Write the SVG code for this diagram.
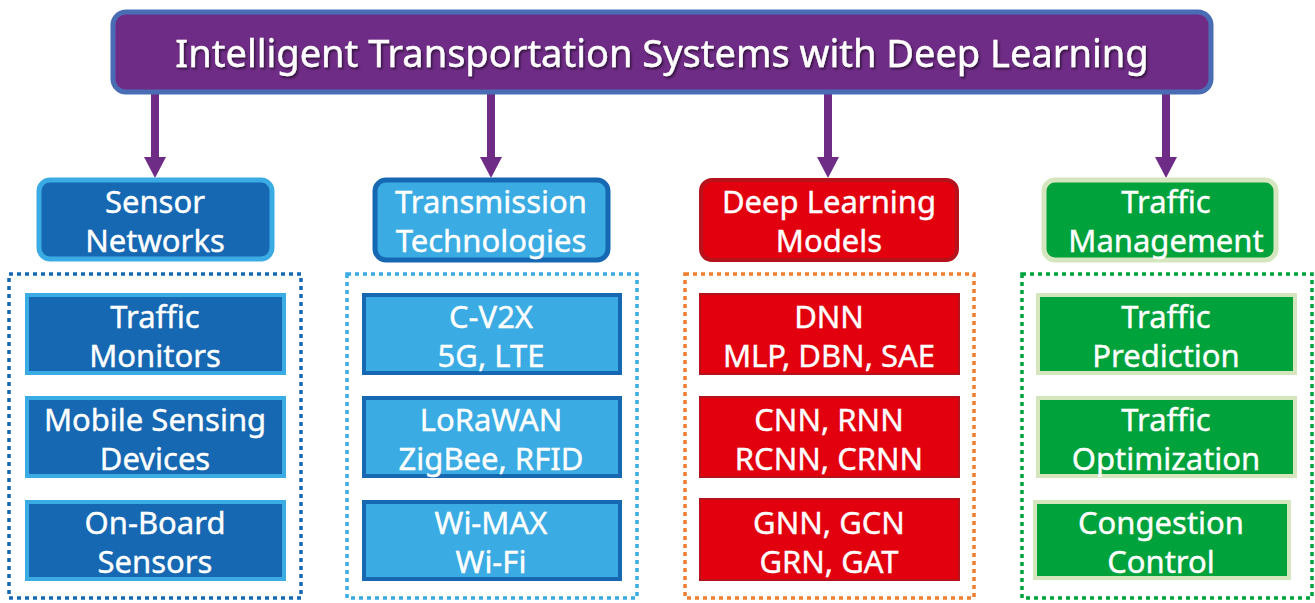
<svg xmlns="http://www.w3.org/2000/svg" width="1315" height="603" viewBox="0 0 1315 603">
<style>
text{font-family:"Noto Sans","Open Sans","DejaVu Sans",sans-serif;fill:#fff;text-anchor:middle;stroke:#fff;stroke-width:0.4}
.t{font-size:38px}
.l{font-size:31px}
.dot{fill:none;stroke-width:3.5;stroke-dasharray:4 4}
</style>
<defs>
<filter id="sh" x="-5%" y="-20%" width="110%" height="150%">
<feDropShadow dx="1.5" dy="2" stdDeviation="1" flood-color="#000" flood-opacity="0.55"/>
</filter>
</defs>
<g id="connectors" stroke="#6f2c86" stroke-width="8" fill="#6f2c86">
<line x1="155" y1="94" x2="155" y2="160"/>
<line x1="491" y1="94" x2="491" y2="160"/>
<line x1="828" y1="94" x2="828" y2="160"/>
<line x1="1166" y1="94" x2="1166" y2="160"/>
<path stroke="none" d="M144,157 L166,157 L155,178 Z"/>
<path stroke="none" d="M480,157 L502,157 L491,178 Z"/>
<path stroke="none" d="M817,157 L839,157 L828,178 Z"/>
<path stroke="none" d="M1155,157 L1177,157 L1166,178 Z"/>
</g>
<g id="title">
<rect x="113" y="12" width="1098" height="80" rx="13" fill="#6f2c86" stroke="#4a6cb5" stroke-width="5"/>
<text class="t" x="662" y="67" filter="url(#sh)">Intelligent Transportation Systems with Deep Learning</text>
</g>
<g id="sensor-networks">
<rect x="39" y="180" width="233" height="79" rx="11" fill="#1668b2" stroke="#3aabe3" stroke-width="5"/>
<text class="l" x="155" y="213">Sensor</text><text class="l" x="155" y="252">Networks</text>
</g>
<g id="transmission-technologies">
<rect x="375" y="180" width="233" height="80" rx="11" fill="#3aabe3" stroke="#1668b2" stroke-width="5"/>
<text class="l" x="491" y="213">Transmission</text><text class="l" x="491" y="252">Technologies</text>
</g>
<g id="deep-learning-models">
<rect x="701" y="180" width="256" height="80" rx="11" fill="#e2000f" stroke="#b5121b" stroke-width="4"/>
<text class="l" x="829" y="213">Deep Learning</text><text class="l" x="829" y="252">Models</text>
</g>
<g id="traffic-management">
<rect x="1044" y="180" width="232" height="80" rx="11" fill="#00a23b" stroke="#d5e5bd" stroke-width="5"/>
<text class="l" x="1166" y="213">Traffic</text><text class="l" x="1166" y="252">Management</text>
</g>
<g id="sensor-group">
<rect class="dot" x="9" y="274" width="292" height="324" stroke="#1668b2"/>
</g>
<g id="transmission-group">
<rect class="dot" x="347" y="274" width="290" height="324" stroke="#3aabe3"/>
</g>
<g id="dl-group">
<rect class="dot" x="685" y="274" width="289" height="324" stroke="#ed7d31"/>
</g>
<g id="traffic-group">
<rect class="dot" x="1022" y="274" width="290" height="324" stroke="#00a23b"/>
</g>
<g id="traffic-monitors">
<rect x="27" y="295" width="257" height="78" fill="#1668b2" stroke="#3aabe3" stroke-width="4"/>
<text class="l" x="155" y="328">Traffic</text><text class="l" x="155" y="367">Monitors</text>
</g>
<g id="mobile-sensing-devices">
<rect x="27" y="398" width="257" height="78" fill="#1668b2" stroke="#3aabe3" stroke-width="4"/>
<text class="l" x="155" y="431">Mobile Sensing</text><text class="l" x="155" y="470">Devices</text>
</g>
<g id="on-board-sensors">
<rect x="27" y="502" width="257" height="77" fill="#1668b2" stroke="#3aabe3" stroke-width="4"/>
<text class="l" x="155" y="534">On-Board</text><text class="l" x="155" y="573">Sensors</text>
</g>
<g id="c-v2x">
<rect x="364" y="295" width="256" height="78" fill="#3aabe3" stroke="#1668b2" stroke-width="4"/>
<text class="l" x="491" y="328">C-V2X</text><text class="l" x="491" y="367">5G, LTE</text>
</g>
<g id="lorawan">
<rect x="364" y="398" width="256" height="78" fill="#3aabe3" stroke="#1668b2" stroke-width="4"/>
<text class="l" x="491" y="431">LoRaWAN</text><text class="l" x="491" y="470">ZigBee, RFID</text>
</g>
<g id="wimax">
<rect x="364" y="502" width="256" height="77" fill="#3aabe3" stroke="#1668b2" stroke-width="4"/>
<text class="l" x="491" y="534">Wi-MAX</text><text class="l" x="491" y="573">Wi-Fi</text>
</g>
<g id="dnn">
<rect x="700" y="294" width="259" height="80" fill="#e2000f" stroke="#b5121b" stroke-width="2"/>
<text class="l" x="829" y="328">DNN</text><text class="l" x="829" y="367">MLP, DBN, SAE</text>
</g>
<g id="cnn">
<rect x="700" y="397" width="259" height="80" fill="#e2000f" stroke="#b5121b" stroke-width="2"/>
<text class="l" x="829" y="431">CNN, RNN</text><text class="l" x="829" y="470">RCNN, CRNN</text>
</g>
<g id="gnn">
<rect x="700" y="499" width="259" height="81" fill="#e2000f" stroke="#b5121b" stroke-width="2"/>
<text class="l" x="829" y="534">GNN, GCN</text><text class="l" x="829" y="573">GRN, GAT</text>
</g>
<g id="traffic-prediction">
<rect x="1038" y="295" width="257" height="78" fill="#00a23b" stroke="#d5e5bd" stroke-width="4"/>
<text class="l" x="1166" y="328">Traffic</text><text class="l" x="1166" y="367">Prediction</text>
</g>
<g id="traffic-optimization">
<rect x="1038" y="398" width="257" height="78" fill="#00a23b" stroke="#d5e5bd" stroke-width="4"/>
<text class="l" x="1166" y="431">Traffic</text><text class="l" x="1166" y="470">Optimization</text>
</g>
<g id="congestion-control">
<rect x="1035" y="502" width="254" height="76" fill="#00a23b" stroke="#d5e5bd" stroke-width="4"/>
<text class="l" x="1161" y="534">Congestion</text><text class="l" x="1161" y="573">Control</text>
</g>
</svg>
